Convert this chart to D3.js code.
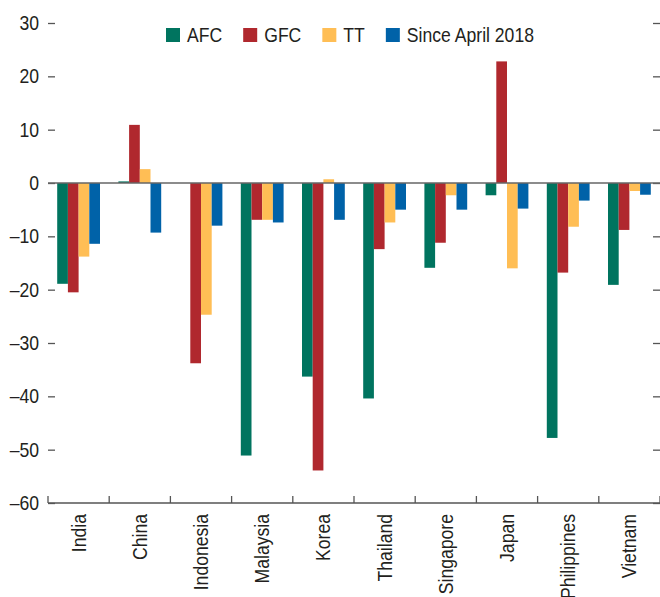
<!DOCTYPE html>
<html>
<head>
<meta charset="utf-8">
<script src="https://cdn.jsdelivr.net/npm/d3@7"></script>
<style>
  body { margin: 0; background: #fff; }
  svg text { font-family: "Liberation Sans", Arimo, sans-serif; fill: #231f20; }
</style>
</head>
<body>
<svg id="chart" width="660" height="597"></svg>
<script>
const countries = ['India', 'China', 'Indonesia', 'Malaysia', 'Korea', 'Thailand', 'Singapore', 'Japan', 'Philippines', 'Vietnam']
const seriesNames = ['AFC', 'GFC', 'TT', 'Since April 2018']
const colors = ['#00745f', '#b0282e', '#ffbe55', '#0062a8']

// one value per country, in country order
const afc = [-18.9, 0.3, 0, -51.1, -36.3, -40.4, -15.9, -2.3, -47.8, -19.1]
const gfc = [-20.5, 10.9, -33.8, -6.9, -53.9, -12.4, -11.2, 22.8, -16.8, -8.8]
const tt = [-13.8, 2.6, -24.7, -6.9, 0.7, -7.4, -2.3, -16.0, -8.2, -1.5]
const sinceApr2018 = [-11.4, -9.3, -8.0, -7.4, -6.9, -5.0, -5.0, -4.8, -3.3, -2.2]
const yTicks = [30, 20, 10, 0, -10, -20, -30, -40, -50, -60]

const seriesValues = [afc, gfc, tt, sinceApr2018]

const svg = d3.select('#chart')
const plotLeft = 48, plotRight = 660, plotTop = 23, plotBottom = 503
const FONT = 20, SQUEEZE = 0.88   // no condensed font installed, so narrow the text by hand

const y = d3.scaleLinear().domain([-60, 30]).range([plotBottom, plotTop])
const x0 = d3.scaleBand().domain(countries).range([plotLeft, plotRight]).padding(0)
const x1 = d3.scaleBand().domain(seriesNames).range([0, x0.bandwidth()])
  .paddingInner(0).paddingOuter(0.86)

const fmt = d => d < 0 ? '\u2013' + Math.abs(d) : String(d)

// left axis, ticks pointing inward
svg.append('g')
  .attr('transform', `translate(${plotLeft},0)`)
  .attr('font-family', null)
  .call(d3.axisLeft(y).tickValues(yTicks).tickSize(-7).tickPadding(9).tickFormat(fmt))
  .call(g => g.select('.domain').remove())
  .call(g => g.selectAll('line').attr('stroke', '#555').attr('stroke-width', 1.3))
  .call(g => g.selectAll('text')
    .attr('font-size', FONT)
    .attr('x', -9 / SQUEEZE)
    .attr('transform', `scale(${SQUEEZE},1)`))

// right axis, ticks only
svg.append('g')
  .attr('transform', `translate(${plotRight},0)`)
  .call(d3.axisRight(y).tickValues(yTicks).tickSize(-7).tickFormat(''))
  .call(g => g.select('.domain').remove())
  .call(g => g.selectAll('line').attr('stroke', '#555').attr('stroke-width', 1.3))

// bars
const groups = svg.append('g').attr('class', 'bars')
  .selectAll('g.group')
  .data(countries)
  .enter().append('g')
  .attr('class', 'group')
  .attr('transform', d => `translate(${x0(d)},0)`)

groups.selectAll('rect')
  .data((c, i) => seriesNames.map((s, k) => ({s, k, v: seriesValues[k][i]})))
  .enter().append('rect')
  .attr('x', d => x1(d.s))
  .attr('width', x1.bandwidth())
  .attr('y', d => y(Math.max(0, d.v)))
  .attr('height', d => Math.abs(y(d.v) - y(0)))
  .attr('fill', d => colors[d.k])

// zero line
svg.append('line')
  .attr('x1', plotLeft).attr('x2', plotRight)
  .attr('y1', y(0)).attr('y2', y(0))
  .attr('stroke', '#666').attr('stroke-width', 1.5)

// bottom axis: labels at band centres, read upwards
svg.append('g')
  .attr('transform', `translate(0,${plotBottom})`)
  .attr('font-family', null)
  .call(d3.axisBottom(x0).tickSize(0).tickPadding(0))
  .call(g => g.select('.domain').remove())
  .call(g => g.selectAll('text')
    .attr('font-size', FONT)
    .attr('text-anchor', 'end')
    .attr('transform', `rotate(-90) scale(${SQUEEZE},1)`)
    .attr('x', -11 / SQUEEZE)
    .attr('y', 0)
    .attr('dy', '0.35em'))

// bottom axis line with boundary ticks pointing up
const bounds = countries.map(c => x0(c)).concat([x0.range()[1]])
const axisB = svg.append('g').attr('class', 'x-axis-line')
axisB.append('line')
  .attr('x1', plotLeft).attr('x2', plotRight)
  .attr('y1', plotBottom).attr('y2', plotBottom)
  .attr('stroke', '#555').attr('stroke-width', 1.5)
axisB.selectAll('line.tick')
  .data(bounds)
  .enter().append('line')
  .attr('class', 'tick')
  .attr('x1', d => d).attr('x2', d => d)
  .attr('y1', plotBottom).attr('y2', plotBottom - 7)
  .attr('stroke', '#555').attr('stroke-width', 1.3)

// legend
const legend = svg.append('g').attr('class', 'legend')
let cursor = 166
seriesNames.forEach((name, k) => {
  legend.append('rect')
    .attr('x', cursor).attr('y', 28)
    .attr('width', 14).attr('height', 14)
    .attr('fill', colors[k])
  const t = legend.append('text')
    .attr('transform', `translate(${cursor + 21},42) scale(${SQUEEZE},1)`)
    .attr('font-size', FONT)
    .text(name)
  cursor += 21 + t.node().getComputedTextLength() * SQUEEZE + 21
})
</script>
</body>
</html>
